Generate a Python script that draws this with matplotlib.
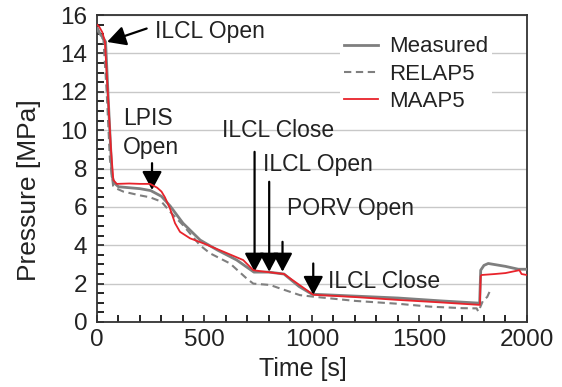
import matplotlib
matplotlib.use("Agg")
import matplotlib.pyplot as plt
from matplotlib.ticker import MultipleLocator

plt.rcParams["font.family"] = ["Liberation Sans", "DejaVu Sans"]

# measured pressure
t_meas = [0, 15, 30, 40, 55, 70, 80, 100, 150, 200, 250, 300, 340, 400, 480, 560,
          650, 730, 800, 870, 940, 1000, 1200, 1400, 1600, 1780, 1785, 1800, 1820,
          1900, 1960, 2000]
p_meas = [15.3, 15.0, 14.8, 14.6, 11.0, 7.6, 7.25, 7.05, 7.0, 6.95, 6.85, 6.55, 6.05,
          5.15, 4.27, 3.75, 3.23, 2.6, 2.6, 2.5, 1.85, 1.45, 1.35, 1.25, 1.1, 0.98,
          2.7, 2.95, 3.05, 2.9, 2.75, 2.75]

# RELAP5
t_relap = [0, 15, 30, 45, 60, 75, 92, 122, 200, 247, 300, 340, 400, 479, 526, 619,
           696, 727, 805, 851, 944, 1006, 1200, 1400, 1549, 1700, 1766, 1774, 1797,
           1815, 1830]
p_relap = [15.4, 15.0, 14.7, 12.0, 8.5, 7.1, 6.95, 6.8, 6.6, 6.5, 6.27, 5.75, 5.05,
           4.0, 3.58, 3.05, 2.27, 2.0, 1.93, 1.75, 1.4, 1.32, 1.1, 0.95, 0.8, 0.72,
           0.71, 0.54, 1.15, 1.3, 1.67]

# MAAP5
t_maap = [0, 10, 25, 37, 50, 65, 76, 92, 150, 200, 247, 280, 300, 316, 340, 363, 386,
          433, 495, 587, 680, 727, 760, 870, 1006, 1200, 1400, 1600, 1781, 1785, 1789,
          1850, 1900, 1965, 1975, 2000]
p_maap = [15.5, 15.4, 15.1, 14.6, 12.0, 9.0, 7.4, 7.2, 7.22, 7.2, 7.2, 7.0, 6.8, 6.5,
          5.9, 5.15, 4.7, 4.36, 4.1, 3.67, 3.23, 2.7, 2.65, 2.5, 1.42, 1.3, 1.15, 1.02,
          0.89, 2.4, 2.45, 2.5, 2.55, 2.7, 2.5, 2.45]

# events: (label, text x, text y, arrow x, arrow top, arrow tip)
events = [
    ("ILCL Close", 581, 9.63, 733, 8.87, 2.62),
    ("ILCL Open", 772, 7.86, 801, 7.31, 2.62),
    ("PORV Open", 882, 5.57, 863, 4.18, 2.62),
    ("ILCL Close", 1076, 1.75, 1006, 3.05, 1.41),
    ("LPIS", 122, 10.26, 256, 8.28, 6.88),
]

fig = plt.figure(figsize=(5.62, 3.87), dpi=100)
ax = fig.add_axes([0.1726, 0.168, 0.765, 0.793])

ax.plot(t_meas, p_meas, color="#7f7f7f", lw=2.0, label="Measured", zorder=3)
ax.plot(t_relap, p_relap, color="#7f7f7f", lw=1.5, ls=(0, (3.5, 2.2)), label="RELAP5", zorder=2)
ax.plot(t_maap, p_maap, color="#e8232b", lw=1.3, label="MAAP5", zorder=4)

ax.set_xlim(0, 2000)
ax.set_ylim(0, 16)
ax.xaxis.set_major_locator(MultipleLocator(500))
ax.xaxis.set_minor_locator(MultipleLocator(100))
ax.yaxis.set_major_locator(MultipleLocator(2))
ax.yaxis.set_minor_locator(MultipleLocator(0.5))
ax.tick_params(which="both", direction="in", top=False, right=False, width=1.2)
ax.tick_params(which="major", length=5, labelsize=17.5, colors="#222222")
ax.tick_params(which="minor", length=5)
ax.tick_params(axis="x", pad=5)
ax.tick_params(axis="y", pad=7)
ax.grid(axis="y", which="major", color="#c8c8c8", lw=1.0, zorder=0)
for s in ax.spines.values():
    s.set_color("#333333")
    s.set_linewidth(1.3)

ax.set_xlabel("Time [s]", fontsize=18, color="#222222")
ax.xaxis.set_label_coords(0.48, -0.115)
ax.set_ylabel("Pressure [MPa]", fontsize=19, color="#222222")
ax.yaxis.set_label_coords(-0.13, 0.43)

aprops = dict(arrowstyle="-|>,head_length=0.45,head_width=0.24", color="black",
              lw=1.6, mutation_scale=25, shrinkA=0, shrinkB=0)

# top "ILCL Open" with slanted arrow
ax.text(270, 14.83, "ILCL Open", fontsize=16.5, color="#222222", ha="left", va="baseline")
ax.annotate("", xy=(47, 14.6), xytext=(231, 15.3), arrowprops=aprops)

for label, tx, ty, ax_x, top, tip in events:
    ax.text(tx, ty, label, fontsize=16.5, color="#222222", ha="left", va="baseline")
    ax.annotate("", xy=(ax_x, tip), xytext=(ax_x, top), arrowprops=aprops)
ax.text(122, 8.75, "Open", fontsize=16.5, color="#222222", ha="left", va="baseline")

leg = ax.legend(loc="upper left", bbox_to_anchor=(0.565, 0.945), fontsize=16,
                frameon=True, edgecolor="none", facecolor="white", framealpha=1,
                handlelength=1.5, handletextpad=0.5, labelspacing=0.28,
                borderpad=0.2, borderaxespad=0)
for txt in leg.get_texts():
    txt.set_color("#222222")

fig.savefig("out.png", dpi=100)
